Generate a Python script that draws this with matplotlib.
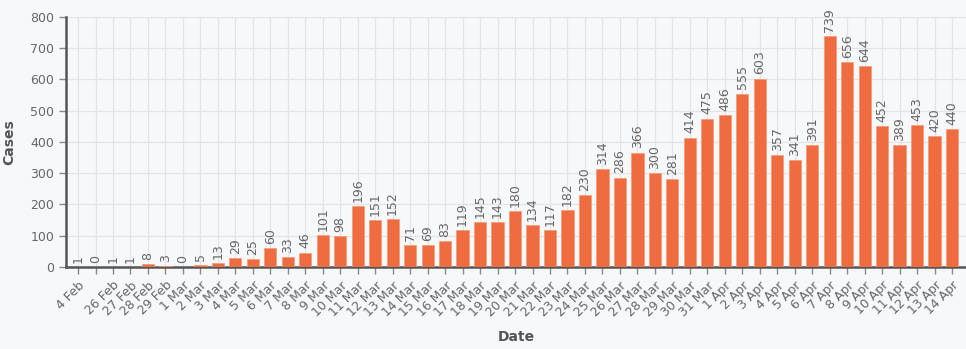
import matplotlib.pyplot as plt

# daily new cases
dates = ["4 Feb", "", "26 Feb", "27 Feb", "28 Feb", "29 Feb"] + \
        [f"{d} Mar" for d in range(1, 32)] + [f"{d} Apr" for d in range(1, 15)]
cases = [1, 0, 1, 1, 8, 3, 0, 5, 13, 29, 25, 60, 33, 46, 101, 98, 196, 151, 152,
         71, 69, 83, 119, 145, 143, 180, 134, 117, 182, 230, 314, 286, 366, 300,
         281, 414, 475, 486, 555, 603, 357, 341, 391, 739, 656, 644, 452, 389,
         453, 420, 440]

bg = "#f7f8fa"
bar_color = "#ef6c40"
text_gray = "#666666"

fig = plt.figure(figsize=(9.66, 3.49), dpi=100, facecolor=bg)
ax = fig.add_axes([0.0683, 0.235, 0.9317, 0.7163], facecolor=bg)

x = list(range(len(cases)))
bars = ax.bar(x, cases, width=0.7, color=bar_color, edgecolor="#f39a78",
              linewidth=0.5, zorder=3)
ax.bar_label(bars, labels=[str(v) for v in cases], rotation=90, padding=3,
             fontsize=9, color=text_gray)

ax.set_xlim(-0.69, 50.8)
ax.set_ylim(0, 800)
ax.set_yticks(range(0, 801, 100))
ax.set_xticks(x)
ax.set_xticklabels(dates, rotation=45, ha="right", rotation_mode="anchor",
                   fontsize=9, color=text_gray)
ax.tick_params(axis="y", labelsize=9, labelcolor=text_gray)
ax.tick_params(axis="both", direction="out", length=5, color="#888888", width=1)

ax.grid(True, color="#e4e4e4", linewidth=0.9, zorder=0)
ax.set_axisbelow(True)

for s in ["top", "right"]:
    ax.spines[s].set_visible(False)
for s in ["left", "bottom"]:
    ax.spines[s].set_color("#555555")
    ax.spines[s].set_linewidth(1.8)

ax.set_xlabel("Date", fontsize=10, fontweight="bold", color="#555555", labelpad=8)
ax.set_ylabel("Cases", fontsize=10, fontweight="bold", color="#555555", labelpad=10)

fig.savefig("out.png", dpi=100, facecolor=bg)
